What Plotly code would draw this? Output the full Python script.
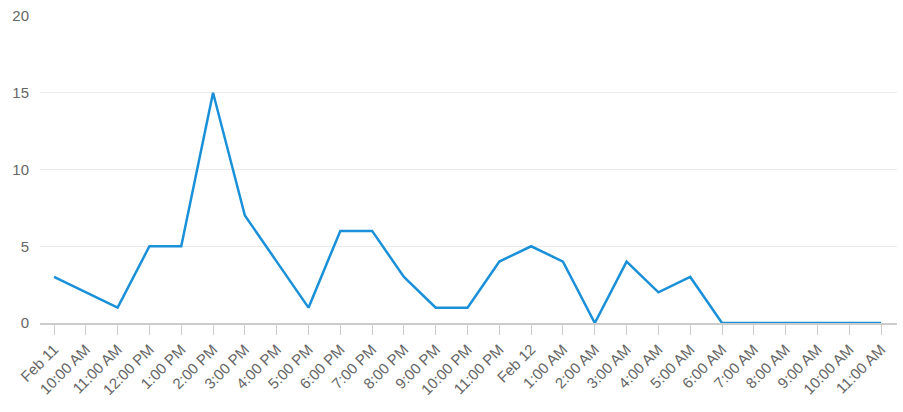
import plotly.graph_objects as go

labels = ["Feb 11", "10:00 AM", "11:00 AM", "12:00 PM", "1:00 PM", "2:00 PM", "3:00 PM",
          "4:00 PM", "5:00 PM", "6:00 PM", "7:00 PM", "8:00 PM", "9:00 PM", "10:00 PM",
          "11:00 PM", "Feb 12", "1:00 AM", "2:00 AM", "3:00 AM", "4:00 AM", "5:00 AM",
          "6:00 AM", "7:00 AM", "8:00 AM", "9:00 AM", "10:00 AM", "11:00 AM"]
values = [3, 2, 1, 5, 5, 15, 7, 4, 1, 6, 6, 3, 1, 1, 4, 5, 4, 0, 4, 2, 3, 0, 0, 0, 0, 0, 0]
y_ticks = [0, 5, 10, 15, 20]

x = list(range(len(labels)))

fig = go.Figure()
fig.add_trace(go.Scatter(x=x, y=values, mode="lines",
                         line=dict(color="#1a90d8", width=2.5)))

fig.update_layout(
    width=903, height=412,
    margin=dict(l=40, r=6, t=16, b=89, autoexpand=False),
    paper_bgcolor="white", plot_bgcolor="white",
    showlegend=False,
    font=dict(family="Liberation Sans, Arial, sans-serif", color="#666666"),
    xaxis=dict(
        tickmode="array", tickvals=x, ticktext=labels,
        range=[-0.44, len(labels) - 0.5],
        tickangle=-45, tickfont=dict(size=15, color="#666666"),
        showgrid=False, zeroline=False, automargin=False,
        showline=True, linecolor="#cccccc", linewidth=1.5,
        ticks="outside", ticklen=10, tickcolor="#cccccc", tickwidth=1,
    ),
    yaxis=dict(
        tickmode="array", tickvals=y_ticks,
        range=[0, 20], automargin=False,
        tickfont=dict(size=15, color="#666666"),
        showgrid=True, gridcolor="#ebebeb", gridwidth=1,
        zeroline=False, showline=False, ticks="", ticklabelstandoff=10,
    ),
)

fig.write_html("out.html", config={"displayModeBar": False},
               post_script="document.body.style.margin='0';document.body.style.padding='0';")
